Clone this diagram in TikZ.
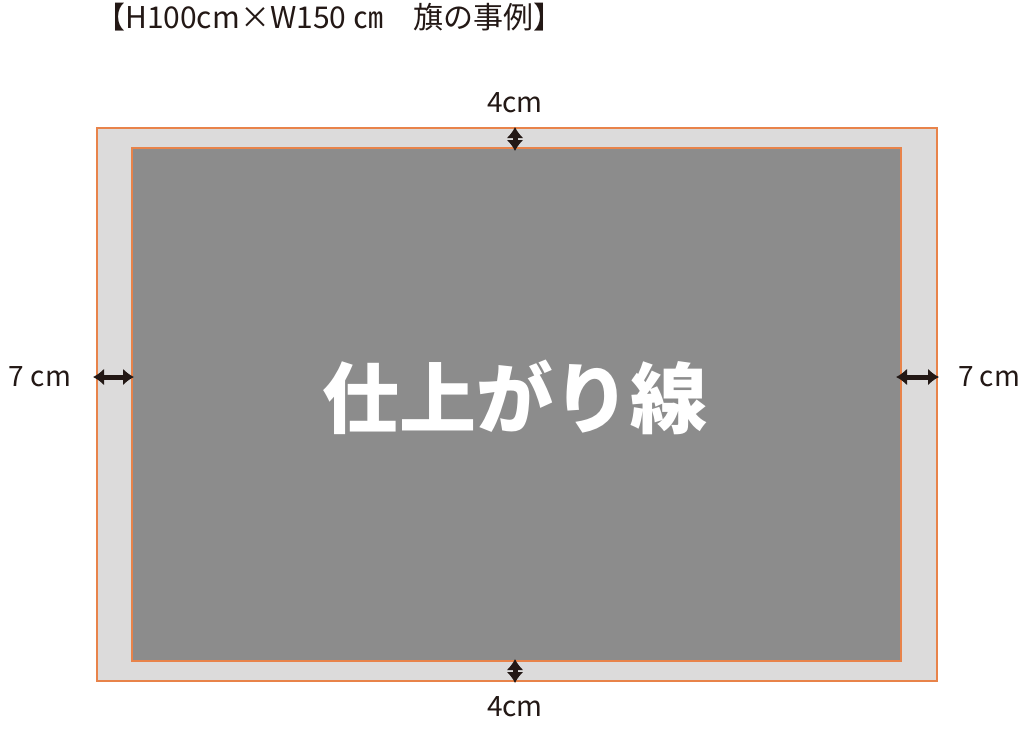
\documentclass[tikz,border=0pt]{standalone}
\usepackage{fontspec}
\setmainfont{Noto Sans CJK JP}
\newfontfamily\cjk{Noto Sans CJK JP}
\usetikzlibrary{arrows.meta}
\definecolor{ink}{HTML}{231815}
\definecolor{bleed}{HTML}{DCDBDB}
\definecolor{face}{HTML}{8C8C8C}
\definecolor{edge}{HTML}{E8834A}
\begin{document}
\begin{tikzpicture}[x=1pt,y=-1pt,
  lbl/.style={font=\cjk\fontsize{28}{28}\selectfont, text=ink, inner sep=0pt},
  dim/.style={draw=ink, line width=5pt, {Latex[length=11pt,width=17pt]}-{Latex[length=11pt,width=17pt]}}]
\useasboundingbox (0,0) rectangle (1024,729);
\fill[white] (0,0) rectangle (1024,729);
\node[draw=edge, fill=bleed, line width=1.5pt, minimum width=840pt, minimum height=553pt, inner sep=0pt, anchor=north west] (outer) at (96,127) {};
\node[draw=edge, fill=face, line width=1.5pt, minimum width=769pt, minimum height=513pt, inner sep=0pt, anchor=north west] (inner) at (131,147) {};
\node[lbl, font=\cjk\fontsize{30}{30}\selectfont, anchor=west] (title) at (95,17) {【H100cm×W150 ㎝　旗の事例】};
\node[lbl] (ttop) at (515,103) {4cm};
\node[lbl] (tbot) at (515,707) {4cm};
\node[lbl] (tleft) at (40,377) {7 cm};
\node[lbl] (tright) at (989,377) {7 cm};
\node[font=\cjk\bfseries\fontsize{77}{77}\selectfont, text=white, inner sep=0pt] (main) at (515,397) {仕上がり線};
\coordinate (a1) at (515,127); \coordinate (a2) at (515,151);
\coordinate (b1) at (515,659); \coordinate (b2) at (515,683);
\coordinate (c1) at (93,377); \coordinate (c2) at (134,377);
\coordinate (d1) at (896,377); \coordinate (d2) at (939,377);
\draw[dim] (a1) -- (a2);
\draw[dim] (b1) -- (b2);
\draw[dim] (c1) -- (c2);
\draw[dim] (d1) -- (d2);
\end{tikzpicture}
\end{document}
